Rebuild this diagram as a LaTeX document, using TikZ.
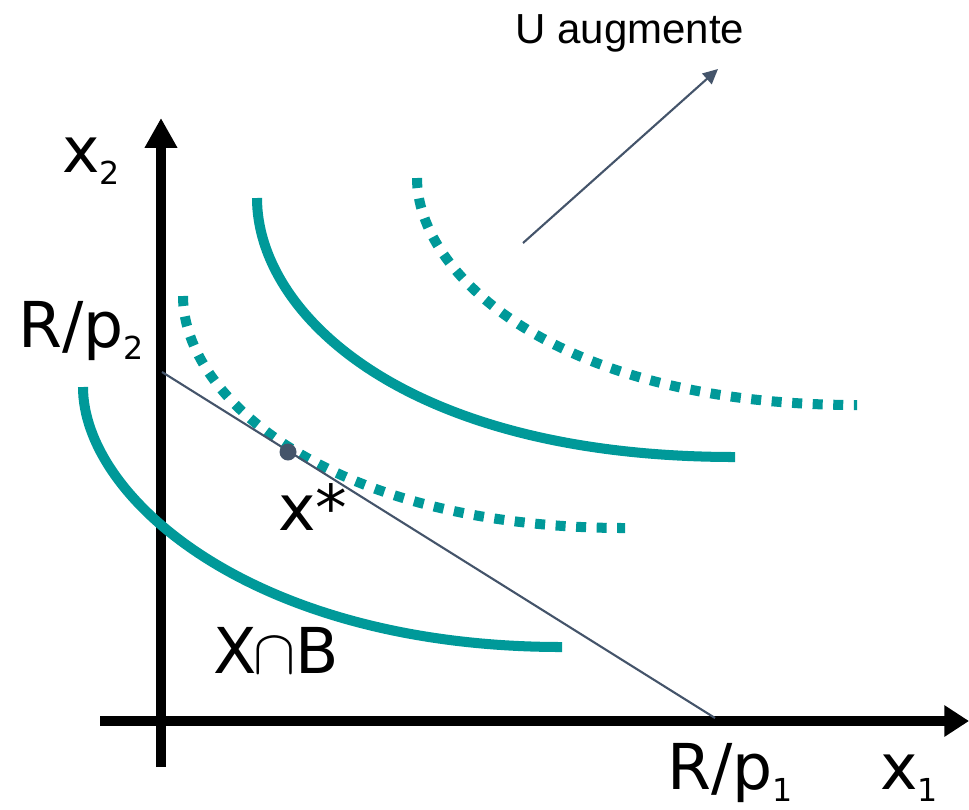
\documentclass[tikz,border=0pt]{standalone}
\usepackage{graphicx}
\usepackage{fontspec}
\setmainfont{DejaVu Sans}
\newfontfamily\arialfont{Liberation Sans}
\usetikzlibrary{arrows.meta}
\definecolor{tealc}{RGB}{0,153,153}
\definecolor{slatec}{RGB}{68,84,106}
\newcommand\subsc[1]{\raisebox{-7pt}{\fontsize{18}{20}\selectfont #1}}
\begin{document}
\begin{tikzpicture}[x=0.02cm,y=-0.02cm,
  curve/.style={tealc, line width=5.7pt, line cap=butt},
  dotcurve/.style={curve, dash pattern=on 5.7pt off 6pt},
  axisline/.style={black, line width=5.7pt},
  lbl/.style={anchor=base west, inner sep=0pt, font=\fontsize{36}{40}\selectfont},
  thinline/.style={slatec, line width=1.2pt},
]
\useasboundingbox (0,0) rectangle (969,809);

% axes
\coordinate (ybot) at (161,767);
\coordinate (ytop) at (161,118);
\coordinate (xleft) at (100,721);
\coordinate (xright) at (969,721);
\draw[axisline,-{Triangle[length=17pt,width=17.5pt]}] (ybot) -- (ytop);
\draw[axisline,-{Triangle[length=14pt,width=17pt]}] (xleft) -- (xright);

% indifference curves
\draw[curve] (83,387) .. controls (83,497) and (252,647) .. (562,647);
\draw[curve] (257,198) .. controls (257,314) and (405,457) .. (735,457);
\draw[dotcurve] (183,296) .. controls (183,400) and (335,528) .. (625,528);
\draw[dotcurve] (417,178) .. controls (417,275) and (557,405) .. (857,405);

% budget line
\coordinate (b2) at (162,372);
\coordinate (b1) at (715,718);
\draw[thinline] (b2) -- (b1);
\fill[slatec] (288,452) circle[radius=8.5] coordinate (xs);

% U arrow
\coordinate (ua) at (523,243);
\coordinate (ub) at (718,69);
\draw[thinline,-{Triangle[length=8.5pt,width=8pt]}] (ua) -- (ub);

% labels
\node[lbl] (lx2) at (62,172) {x\subsc{2}};
\node[lbl] (lrp2) at (18,347) {R/p\subsc{2}};
\node[lbl] (lxs) at (278,530) {x*};
\node[lbl] (lxb) at (213,673) {X\kern-2pt\scalebox{1.45}{$\cap$}B};
\node[lbl] (lrp1) at (667,789) {R/p\subsc{1}};
\node[lbl] (lx1) at (880,789) {x\subsc{1}};
\node[anchor=base west, inner sep=0pt, font=\arialfont\fontsize{23.9}{26}\selectfont] (lu) at (515,43) {U augmente};
\end{tikzpicture}
\end{document}
